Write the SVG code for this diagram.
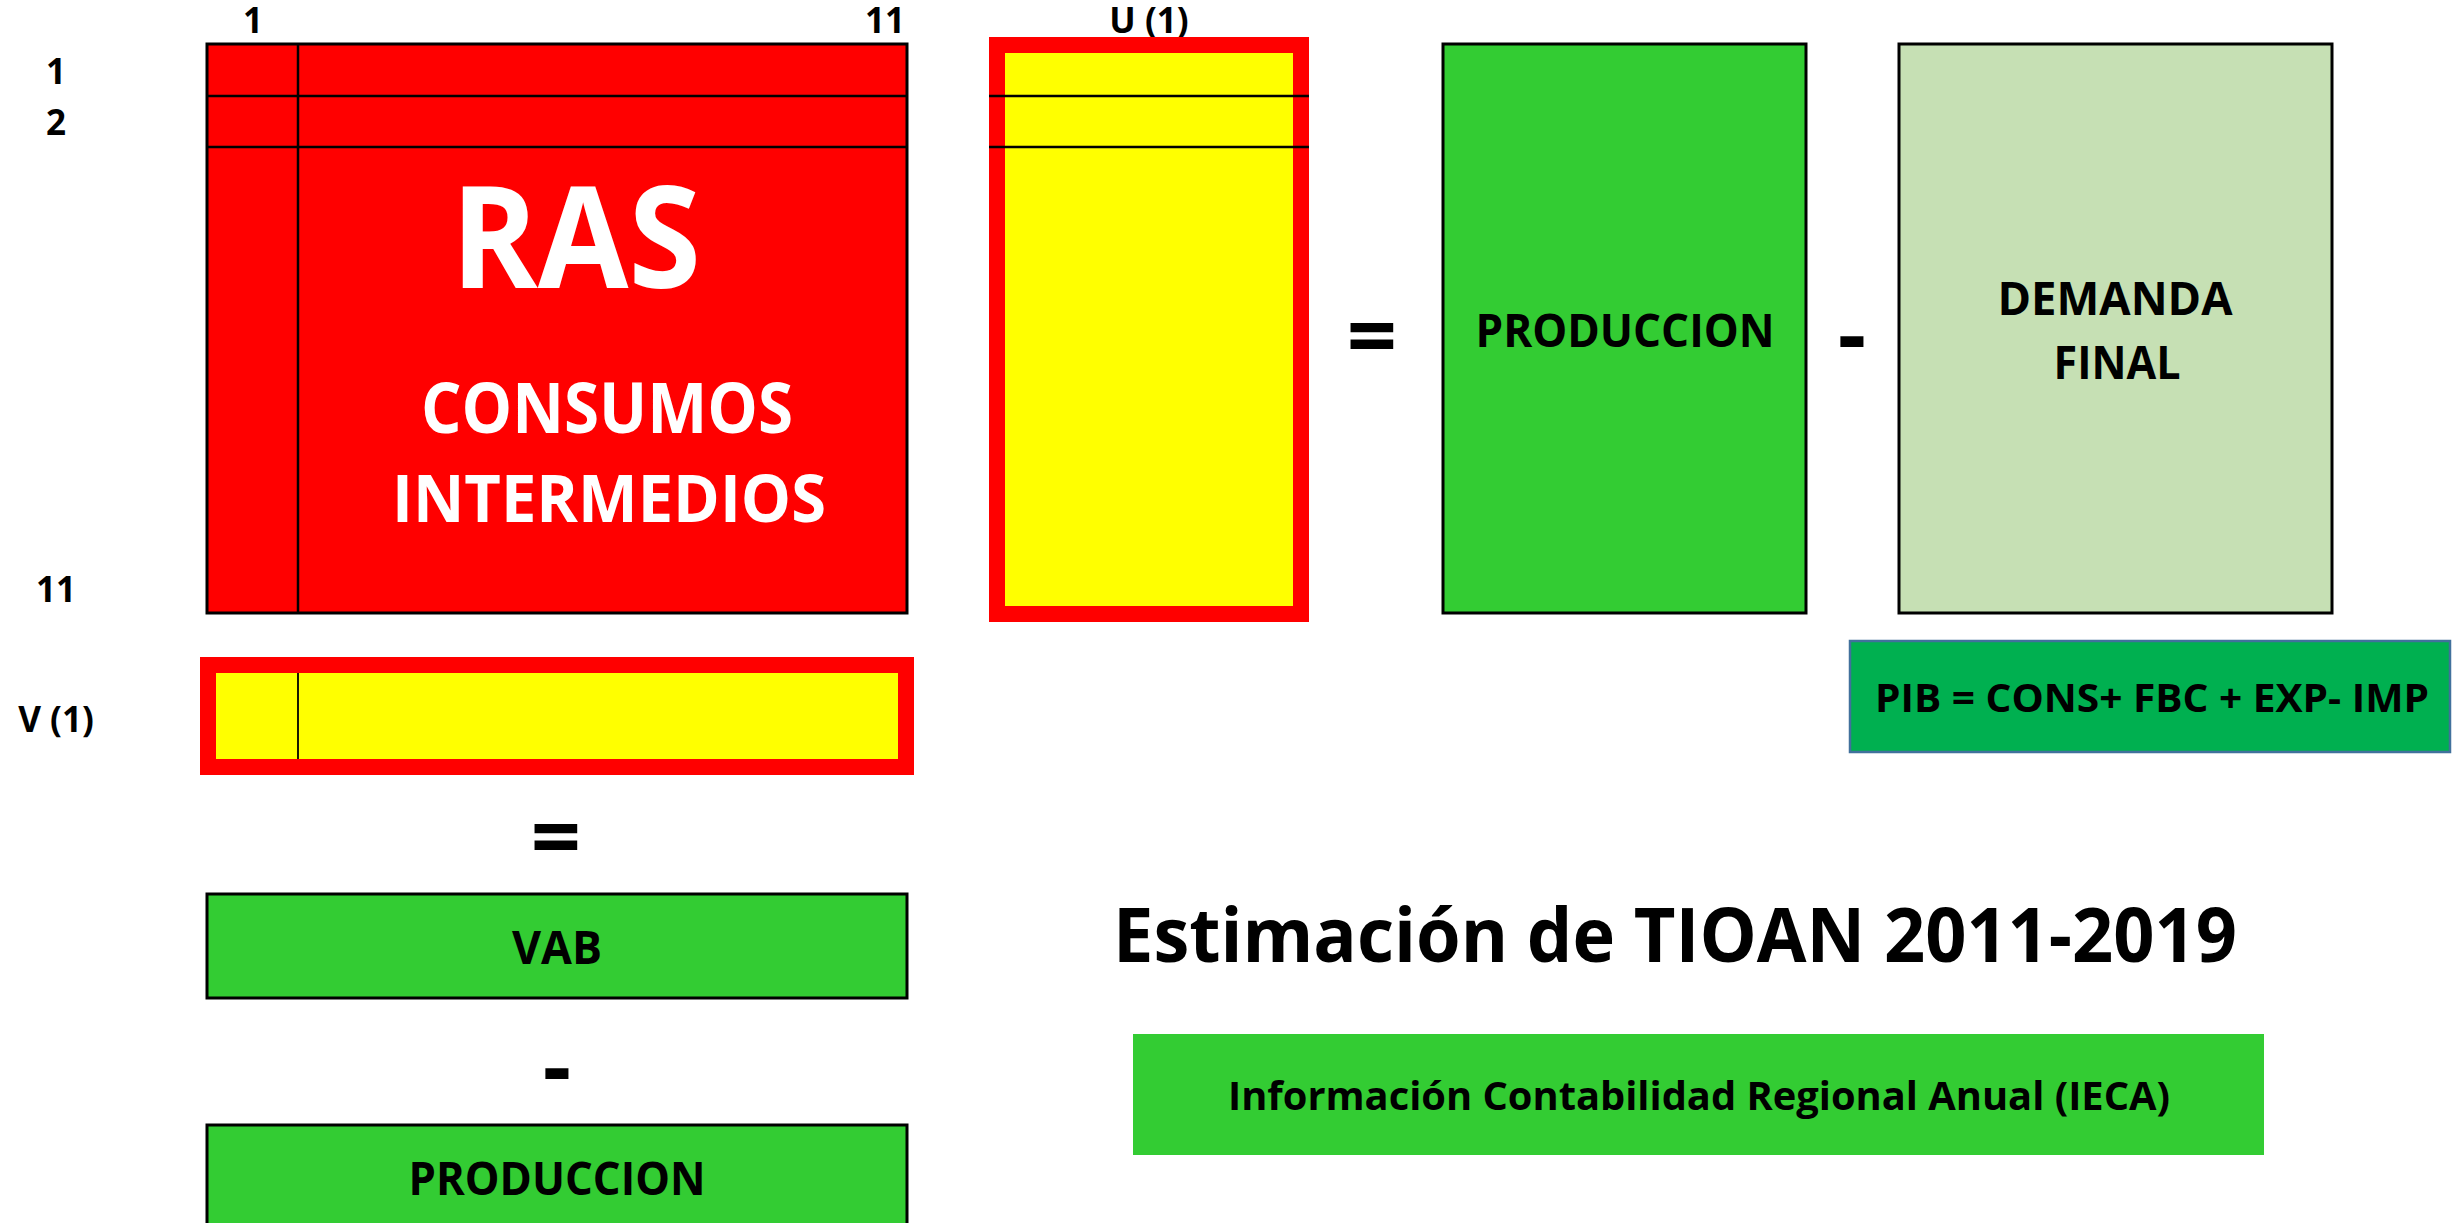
<svg xmlns="http://www.w3.org/2000/svg" width="2453" height="1223" viewBox="0 0 2453 1223">
<style>
  text { font-family: "Open Sans", "Liberation Sans", sans-serif; font-weight: bold; }
  .lbl { font-size: 35px; fill: #000; }
  .big { fill: #fff; }
  .blk { fill: #000; }
  .op { font-size: 88px; fill: #000; text-anchor: middle; }
  .edge { stroke: #000; stroke-width: 3; }
  .thin { stroke: #000; stroke-width: 2.5; }
</style>
<rect width="2453" height="1223" fill="#fff"/>

<g id="labels">
  <text class="lbl" x="253" y="33" text-anchor="middle">1</text>
  <text class="lbl" x="885" y="33" text-anchor="middle">11</text>
  <text class="lbl" x="56" y="84" text-anchor="middle">1</text>
  <text class="lbl" x="56" y="135" text-anchor="middle">2</text>
  <text class="lbl" x="56" y="602" text-anchor="middle">11</text>
  <text class="lbl" x="56" y="732" text-anchor="middle">V (1)</text>
  <text class="lbl" x="1149" y="33" text-anchor="middle">U (1)</text>
</g>

<g id="ras">
  <rect x="207" y="44" width="700" height="569" fill="#FF0000" class="edge"/>
  <line x1="207" y1="96" x2="907" y2="96" class="thin"/>
  <line x1="207" y1="147" x2="907" y2="147" class="thin"/>
  <line x1="298" y1="44" x2="298" y2="613" class="thin"/>
  <text class="big" x="576" y="288" font-size="141" text-anchor="middle" textLength="250" lengthAdjust="spacingAndGlyphs">RAS</text>
  <text class="big" x="607" y="433" font-size="69" text-anchor="middle" textLength="372" lengthAdjust="spacingAndGlyphs">CONSUMOS</text>
  <text class="big" x="609" y="522" font-size="67" text-anchor="middle" textLength="434" lengthAdjust="spacingAndGlyphs">INTERMEDIOS</text>
</g>

<g id="u1">
  <rect x="997" y="45" width="304" height="569" fill="#FFFF00" stroke="#FF0000" stroke-width="16"/>
  <line x1="989" y1="96" x2="1309" y2="96" class="thin"/>
  <line x1="989" y1="147" x2="1309" y2="147" class="thin"/>
</g>

<g id="eq1"><text class="op" x="1372" y="367">=</text></g>

<g id="produccion-top">
  <rect x="1443" y="44" width="363" height="569" fill="#33CC33" class="edge"/>
  <text class="blk" x="1625" y="347" font-size="47" text-anchor="middle" textLength="299" lengthAdjust="spacingAndGlyphs">PRODUCCION</text>
</g>

<g id="minus1"><text class="op" x="1852" y="365">-</text></g>

<g id="demanda">
  <rect x="1899" y="44" width="433" height="569" fill="#C6E0B4" class="edge"/>
  <text class="blk" x="2115" y="315" font-size="46" text-anchor="middle" textLength="235" lengthAdjust="spacingAndGlyphs">DEMANDA</text>
  <text class="blk" x="2117" y="379" font-size="46" text-anchor="middle" textLength="127" lengthAdjust="spacingAndGlyphs">FINAL</text>
</g>

<g id="pib">
  <rect x="1850" y="641" width="600" height="111" fill="#00B050" stroke="#41719C" stroke-width="2.5"/>
  <text class="blk" x="1875" y="712" font-size="39" textLength="554" lengthAdjust="spacingAndGlyphs">PIB = CONS+ FBC + EXP- IMP</text>
</g>

<g id="v1">
  <rect x="208" y="665" width="698" height="102" fill="#FFFF00" stroke="#FF0000" stroke-width="16"/>
  <line x1="298" y1="673" x2="298" y2="759" stroke="#000" stroke-width="1.8"/>
</g>

<g id="eq2"><text class="op" x="556" y="868">=</text></g>

<g id="vab">
  <rect x="207" y="894" width="700" height="104" fill="#33CC33" class="edge"/>
  <text class="blk" x="557" y="964" font-size="46" text-anchor="middle" textLength="90" lengthAdjust="spacingAndGlyphs">VAB</text>
</g>

<g id="minus2"><text class="op" x="557" y="1097">-</text></g>

<g id="produccion-bottom">
  <rect x="207" y="1125" width="700" height="120" fill="#33CC33" class="edge"/>
  <text class="blk" x="557" y="1195" font-size="46" text-anchor="middle" textLength="297" lengthAdjust="spacingAndGlyphs">PRODUCCION</text>
</g>

<g id="title">
  <text class="blk" x="1113" y="962" font-size="76" textLength="1124" lengthAdjust="spacingAndGlyphs">Estimación de TIOAN 2011-2019</text>
</g>

<g id="ieca">
  <rect x="1133" y="1034" width="1131" height="121" fill="#33CC33"/>
  <text class="blk" x="1228" y="1110" font-size="39" textLength="942" lengthAdjust="spacingAndGlyphs">Información Contabilidad Regional Anual (IECA)</text>
</g>

<g id="connectors"></g>
</svg>
